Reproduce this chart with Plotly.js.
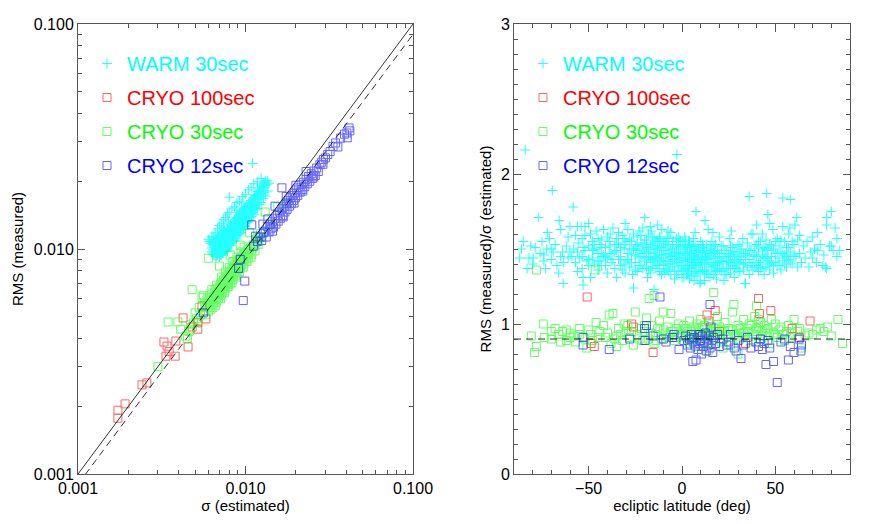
<!DOCTYPE html>
<html><head><meta charset="utf-8">
<script src="https://cdn.plot.ly/plotly-3.0.1.min.js"></script>
<style>html,body{margin:0;padding:0;background:#fff}#chart{width:872px;height:524px}</style>
</head><body><div id="chart"></div>
<script>
// ---- Left panel: [sigma (estimated), RMS (measured)] ----
const warmLeft = [
[0.0060,0.0110],[0.0062,0.0106],[0.0064,0.0113],[0.0063,0.0097],[0.0064,0.0099],[0.0065,0.0094],[0.0065,0.0102],[0.0066,0.0097],[0.0066,0.0106],
[0.0067,0.0100],[0.0067,0.0095],[0.0068,0.0103],[0.0068,0.0109],[0.0069,0.0098],[0.0069,0.0105],[0.0070,0.0101],[0.0070,0.0112],[0.0071,0.0107],
[0.0071,0.0099],[0.0072,0.0104],[0.0072,0.0113],[0.0072,0.0094],[0.0073,0.0109],[0.0073,0.0102],[0.0074,0.0116],[0.0074,0.0106],[0.0075,0.0111],
[0.0075,0.0103],[0.0076,0.0119],[0.0076,0.0108],[0.0077,0.0113],[0.0077,0.0104],[0.0078,0.0121],[0.0078,0.0101],[0.0078,0.0110],[0.0079,0.0116],
[0.0079,0.0107],[0.0080,0.0124],[0.0080,0.0113],[0.0080,0.0170],[0.0081,0.0119],[0.0081,0.0109],[0.0082,0.0127],[0.0082,0.0115],[0.0083,0.0122],
[0.0083,0.0112],[0.0084,0.0130],[0.0084,0.0118],[0.0085,0.0125],[0.0085,0.0109],[0.0085,0.0114],[0.0086,0.0133],[0.0086,0.0121],[0.0087,0.0128],
[0.0087,0.0117],[0.0088,0.0137],[0.0088,0.0124],[0.0089,0.0131],[0.0089,0.0120],[0.0090,0.0140],[0.0090,0.0127],[0.0091,0.0134],[0.0091,0.0123],
[0.0092,0.0143],[0.0092,0.0118],[0.0092,0.0130],[0.0093,0.0137],[0.0094,0.0126],[0.0094,0.0146],[0.0095,0.0133],[0.0096,0.0141],[0.0097,0.0130],
[0.0097,0.0150],[0.0098,0.0138],[0.0099,0.0146],[0.0100,0.0130],[0.0100,0.0154],[0.0101,0.0142],[0.0102,0.0150],[0.0103,0.0139],[0.0104,0.0159],
[0.0105,0.0147],[0.0106,0.0156],[0.0107,0.0144],[0.0108,0.0164],[0.0108,0.0139],[0.0109,0.0152],[0.0110,0.0160],[0.0110,0.0240],[0.0111,0.0150],
[0.0112,0.0169],[0.0113,0.0157],[0.0114,0.0166],[0.0116,0.0174],[0.0117,0.0161],[0.0118,0.0180],[0.0120,0.0170],[0.0121,0.0185],[0.0123,0.0176],
[0.0124,0.0190],[0.0126,0.0182],[0.0128,0.0195],[0.0130,0.0187],[0.0132,0.0200],[0.0134,0.0193],[0.0068,0.0096],[0.0070,0.0097],[0.0073,0.0099],
[0.0066,0.0101],[0.0069,0.0108],[0.0071,0.0103],[0.0074,0.0100],[0.0076,0.0112],[0.0079,0.0111],[0.0082,0.0120],[0.0084,0.0113],[0.0087,0.0124],
[0.0090,0.0121],[0.0093,0.0131],[0.0096,0.0128],[0.0099,0.0137],[0.0102,0.0136],[0.0106,0.0143],[0.0115,0.0158],[0.0119,0.0166],
[0.0064,0.0104],[0.0065,0.0110],[0.0066,0.0093],[0.0067,0.0111],[0.0068,0.0099],[0.0069,0.0114],[0.0070,0.0095],[0.0070,0.0106],[0.0071,0.0116],
[0.0072,0.0099],[0.0072,0.0109],[0.0073,0.0118],[0.0074,0.0097],[0.0074,0.0111],[0.0075,0.0121],[0.0075,0.0099],[0.0076,0.0103],[0.0077,0.0119],
[0.0077,0.0108],[0.0078,0.0125],[0.0078,0.0105],[0.0079,0.0121],[0.0080,0.0104],[0.0080,0.0118],[0.0081,0.0128],[0.0081,0.0113],[0.0082,0.0106],
[0.0083,0.0126],[0.0083,0.0116],[0.0084,0.0108],[0.0085,0.0131],[0.0085,0.0120],[0.0086,0.0111],[0.0087,0.0135],[0.0087,0.0122],[0.0088,0.0114],
[0.0089,0.0138],[0.0089,0.0125],[0.0090,0.0116],[0.0091,0.0141],[0.0091,0.0129],[0.0092,0.0123],[0.0093,0.0145],[0.0093,0.0119],[0.0094,0.0135],
[0.0095,0.0148],[0.0095,0.0125],[0.0096,0.0136],[0.0097,0.0122],[0.0098,0.0151],[0.0099,0.0127],[0.0100,0.0142],[0.0101,0.0155],[0.0102,0.0131],
[0.0103,0.0146],[0.0104,0.0135],[0.0105,0.0160],[0.0106,0.0138],[0.0107,0.0152],[0.0109,0.0164],[0.0110,0.0145],[0.0111,0.0158],[0.0113,0.0170],
[0.0115,0.0152],[0.0117,0.0175],[0.0119,0.0158],[0.0122,0.0180],[0.0125,0.0172],[0.0127,0.0191],[0.0129,0.0178],[0.0131,0.0192],
[0.0061,0.0108],[0.0063,0.0114],[0.0066,0.0118],[0.0068,0.0123],[0.0070,0.0127],[0.0072,0.0130],[0.0074,0.0135],[0.0076,0.0138],[0.0078,0.0143],
[0.0080,0.0145],[0.0083,0.0152],[0.0086,0.0154],[0.0089,0.0161],[0.0092,0.0163],[0.0096,0.0171],[0.0100,0.0175],[0.0104,0.0183],[0.0108,0.0187],
[0.0112,0.0195],[0.0118,0.0199],[0.0124,0.0206],[0.0070,0.0092],[0.0073,0.0096],[0.0076,0.0098],[0.0079,0.0102],[0.0082,0.0104],[0.0085,0.0109],
[0.0088,0.0111],[0.0091,0.0117],[0.0094,0.0118],[0.0097,0.0124],[0.0100,0.0126],[0.0103,0.0132],[0.0106,0.0134],[0.0109,0.0140],[0.0112,0.0142],
[0.0115,0.0149],[0.0118,0.0151],[0.0121,0.0158],[0.0124,0.0161],[0.0128,0.0168],[0.0132,0.0172],[0.0136,0.0181],[0.0069,0.0101],[0.0072,0.0107],
[0.0075,0.0115],[0.0078,0.0117],[0.0081,0.0123],[0.0084,0.0126],[0.0087,0.0131],[0.0090,0.0133],[0.0093,0.0139],[0.0096,0.0145],[0.0099,0.0150],
[0.0102,0.0153],[0.0105,0.0158],[0.0108,0.0160],[0.0111,0.0167],[0.0114,0.0173],[0.0120,0.0181],[0.0126,0.0187],[0.0130,0.0197],[0.0135,0.0201],
[0.0138,0.0196],[0.0074,0.0125],[0.0079,0.0133],[0.0088,0.0149],[0.0095,0.0160],[0.0071,0.0097],[0.0077,0.0104],[0.0083,0.0112],[0.0090,0.0121],
[0.0098,0.0132],[0.0105,0.0142],[0.0113,0.0153],
[0.0063,0.0101],[0.0064,0.0095],[0.0064,0.0107],[0.0065,0.0098],[0.0065,0.0105],[0.0066,0.0099],[0.0066,0.0110],[0.0067,0.0093],[0.0067,0.0104],
[0.0067,0.0108],[0.0068,0.0094],[0.0068,0.0101],[0.0068,0.0113],[0.0069,0.0096],[0.0069,0.0103],[0.0069,0.0110],[0.0070,0.0099],[0.0070,0.0108],
[0.0070,0.0115],[0.0071,0.0094],[0.0071,0.0101],[0.0071,0.0111],[0.0072,0.0097],[0.0072,0.0102],[0.0072,0.0117],[0.0073,0.0104],[0.0073,0.0112],
[0.0073,0.0096],[0.0074,0.0103],[0.0074,0.0108],[0.0074,0.0119],[0.0075,0.0106],[0.0075,0.0113],[0.0076,0.0100],[0.0076,0.0115],[0.0077,0.0110],
[0.0077,0.0100],[0.0078,0.0113],[0.0078,0.0098],[0.0079,0.0104],[0.0079,0.0118]
];
const cryo100Left = [
[0.00173,0.00192],[0.00173,0.00177],[0.00191,0.00205],[0.00241,0.00249],[0.00258,0.00254],[0.00326,0.00386],[0.00340,0.00370],
[0.00335,0.00334],[0.00380,0.00334],[0.00384,0.00390],[0.00424,0.00494],[0.00454,0.00367],[0.00480,0.00450],[0.00519,0.00440],
[0.00550,0.00558],[0.00580,0.00489],[0.00350,0.00350],[0.00520,0.00470]
];
const cryo30Left = [
[0.0030,0.0030],[0.00345,0.00474],[0.00395,0.00474],[0.0041,0.0044],[0.0044,0.0041],[0.0045,0.0040],[0.0046,0.0043],[0.0047,0.0046],
[0.0047,0.0044],[0.0048,0.0066],[0.0049,0.0047],[0.0050,0.0052],[0.0051,0.0049],[0.0052,0.0048],[0.0053,0.0055],[0.0054,0.0051],
[0.0055,0.0061],[0.0056,0.0062],[0.0060,0.0091],[0.0070,0.0084],[0.0081,0.0094],[0.0093,0.0104],[0.0106,0.0118],[0.0099,0.0096],
[0.0057,0.0053],[0.0057,0.0058],[0.0058,0.0051],[0.0058,0.0056],[0.0059,0.0055],[0.0059,0.0060],[0.0060,0.0053],[0.0060,0.0058],
[0.0061,0.0057],[0.0061,0.0061],[0.0062,0.0054],[0.0062,0.0059],[0.0063,0.0063],[0.0063,0.0057],[0.0064,0.0060],[0.0064,0.0055],
[0.0065,0.0064],[0.0065,0.0058],[0.0066,0.0061],[0.0066,0.0066],[0.0067,0.0058],[0.0067,0.0063],[0.0068,0.0062],[0.0068,0.0067],
[0.0069,0.0060],[0.0069,0.0065],[0.0070,0.0068],[0.0070,0.0062],[0.0071,0.0065],[0.0071,0.0070],[0.0072,0.0063],[0.0072,0.0067],
[0.0073,0.0071],[0.0073,0.0064],[0.0074,0.0068],[0.0074,0.0073],[0.0075,0.0065],[0.0075,0.0070],[0.0076,0.0074],[0.0076,0.0067],
[0.0077,0.0071],[0.0077,0.0076],[0.0078,0.0068],[0.0078,0.0073],[0.0079,0.0077],[0.0079,0.0070],[0.0080,0.0074],[0.0080,0.0079],
[0.0081,0.0070],[0.0081,0.0075],[0.0082,0.0080],[0.0082,0.0073],[0.0083,0.0077],[0.0083,0.0082],[0.0084,0.0073],[0.0084,0.0078],
[0.0085,0.0083],[0.0085,0.0076],[0.0086,0.0080],[0.0086,0.0085],[0.0087,0.0076],[0.0087,0.0081],[0.0088,0.0086],[0.0088,0.0079],
[0.0089,0.0083],[0.0089,0.0088],[0.0090,0.0079],[0.0090,0.0084],[0.0091,0.0089],[0.0091,0.0082],[0.0092,0.0086],[0.0093,0.0091],
[0.0093,0.0082],[0.0094,0.0087],[0.0095,0.0092],[0.0095,0.0085],[0.0096,0.0089],[0.0097,0.0094],[0.0098,0.0086],[0.0099,0.0091],
[0.0100,0.0096],[0.0101,0.0088],[0.0102,0.0094],[0.0103,0.0099],[0.0104,0.0091],[0.0106,0.0097],[0.0107,0.0102],[0.0109,0.0095],
[0.0110,0.0101],[0.0112,0.0105],[0.0114,0.0098],[0.0116,0.0107],[0.0117,0.0110],[0.0120,0.0105],[0.0125,0.0113],[0.0131,0.0146],
[0.0156,0.0154],[0.0177,0.0160],[0.0140,0.0128],[0.0063,0.0066],[0.0067,0.0069],[0.0072,0.0075],[0.0076,0.0079],[0.0080,0.0083],
[0.0084,0.0088],[0.0089,0.0092],[0.0094,0.0097],[0.0098,0.0102],[0.0066,0.0056],[0.0071,0.0060],[0.0075,0.0064],[0.0079,0.0068],
[0.0083,0.0071],[0.0088,0.0075],[0.0092,0.0079],[0.0097,0.0083],[0.0102,0.0088],[0.0108,0.0092],
[0.0062,0.0057],[0.0064,0.0058],[0.0066,0.0062],[0.0068,0.0064],[0.0070,0.0065],[0.0072,0.0069],[0.0074,0.0070],[0.0076,0.0071],
[0.0078,0.0075],[0.0080,0.0076],[0.0082,0.0077],[0.0084,0.0081],[0.0086,0.0082],[0.0088,0.0083],[0.0090,0.0086],[0.0092,0.0088],
[0.0094,0.0089],[0.0096,0.0092],[0.0098,0.0093],[0.0100,0.0094],[0.0065,0.0061],[0.0069,0.0063],[0.0073,0.0068],[0.0077,0.0072],
[0.0081,0.0077],[0.0085,0.0079],[0.0089,0.0085],[0.0093,0.0088],[0.0097,0.0090],[0.0103,0.0096],[0.0105,0.0100],[0.0111,0.0103],
[0.0115,0.0110],[0.0119,0.0112],[0.0123,0.0117]
];
const cryo12Left = [
[0.0056,0.0052],[0.0091,0.0082],[0.0099,0.0072],[0.0097,0.0059],[0.0093,0.0090],[0.0109,0.0128],[0.0165,0.0187],[0.0112,0.0103],
[0.0118,0.0108],[0.0122,0.0113],[0.0125,0.0109],[0.0128,0.0118],[0.0131,0.0120],[0.0133,0.0113],[0.0135,0.0126],[0.0138,0.0119],
[0.0140,0.0129],[0.0142,0.0123],[0.0145,0.0132],[0.0147,0.0125],[0.0150,0.0137],[0.0152,0.0129],[0.0155,0.0141],[0.0157,0.0133],
[0.0160,0.0146],[0.0162,0.0137],[0.0165,0.0151],[0.0167,0.0141],[0.0170,0.0155],[0.0172,0.0146],[0.0175,0.0160],[0.0177,0.0150],
[0.0180,0.0164],[0.0183,0.0155],[0.0185,0.0169],[0.0188,0.0159],[0.0190,0.0173],[0.0193,0.0164],[0.0196,0.0177],[0.0199,0.0169],
[0.0202,0.0183],[0.0205,0.0173],[0.0208,0.0187],[0.0212,0.0179],[0.0215,0.0193],[0.0218,0.0184],[0.0222,0.0198],[0.0226,0.0189],
[0.0230,0.0204],[0.0234,0.0195],[0.0238,0.0210],[0.0242,0.0200],[0.0247,0.0216],[0.0251,0.0206],[0.0256,0.0222],[0.0261,0.0212],
[0.0266,0.0229],[0.0272,0.0221],[0.0278,0.0237],[0.0285,0.0243],[0.0292,0.0250],[0.0300,0.0254],[0.0310,0.0263],[0.0320,0.0271],
[0.0333,0.0286],[0.0356,0.0284],[0.0345,0.0296],[0.0370,0.0311],[0.0390,0.0324],[0.0403,0.0328],[0.0415,0.0345],[0.0420,0.0335],
[0.0405,0.0312],[0.0150,0.0155],[0.0175,0.0171],[0.0200,0.0192],[0.0230,0.0221],[0.0136,0.0136],[0.0127,0.0129],[0.0115,0.0114],
[0.0145,0.0120],[0.0168,0.0139],[0.0195,0.0160],[0.0220,0.0181],[0.0255,0.0209],[0.0290,0.0238]
];
// ---- Right panel: [ecliptic latitude (deg), RMS(measured)/sigma(estimated)] ----
const warmRight = [
[-87,1.44],[-85,1.55],[-84,2.16],[-83,1.37],[-82,1.44],[-86,1.50],[-81,1.52],[-80,1.40],
[-79.7,1.44],[-78.6,1.51],[-77,1.71],[-76,1.47],[-75,1.55],[-74,1.46],[-74,1.42],[-73,1.37],[-72,1.61],[-71,1.57],[-72.5,1.50],[-70,1.43],
[-69.5,1.89],[-69,1.48],[-67,1.39],[-66,1.34],[-65.8,1.69],[-65,1.63],[-64,1.48],[-63.6,1.41],[-63.6,1.27],[-61,1.58],[-62,1.52],[-60,1.65],[-68,1.53],[-61,1.44],
[-59,1.45],[-58.3,1.78],[-57,1.59],[-57,1.41],[-56,1.65],[-56,1.48],[-56,1.35],[-55.6,1.54],[-54,1.65],[-53.5,1.57],[-53.5,1.45],[-53.5,1.37],[-53,1.51],[-53,1.31],[-53,1.26],[-52,1.65],[-52,1.59],[-51,1.42],[-50,1.67],[-50,1.52],[-50,1.43],[-58,1.50],
[-49,1.60],[-49,1.31],[-48,1.55],[-47.6,1.49],[-47,1.40],[-46,1.62],[-45,1.47],[-45,1.36],[-44,1.53],[-43,1.56],[-43,1.39],[-42,1.63],[-42,1.46],[-41,1.45],[-41,1.51],[-40,1.58],[-40,1.34],[-44,1.42],[-46,1.50],[-48,1.44],
[-38.5,1.60],[-38.5,1.52],[-38,1.41],[-37,1.64],[-37,1.43],[-36,1.48],[-35,1.57],[-35,1.49],[-35,1.31],[-34,1.54],[-33,1.39],[-33,1.45],[-32,1.59],[-32,1.36],[-31,1.50],[-30.5,1.67],[-30.5,1.53],[-30.5,1.34],[-30,1.42],[-39,1.47],[-36,1.37],[-34,1.61],
[-29,1.63],[-29,1.43],[-28,1.50],[-28,1.38],[-27,1.55],[-27,1.46],[-26,1.24],[-26,1.60],[-25,1.41],[-25,1.52],[-24,1.58],[-24,1.49],[-24,1.35],[-23,1.44],[-23,1.62],[-22,1.54],[-22,1.39],[-21,1.64],[-21,1.47],[-20,1.56],[-20,1.42],[-20,1.71],[-29.5,1.55],[-26.5,1.33],
[-19,1.51],[-19,1.38],[-18,1.60],[-18,1.45],[-17,1.65],[-17,1.53],[-17,1.34],[-16,1.54],[-16,1.43],[-15,1.23],[-15,1.58],[-15,1.48],[-14,1.37],[-14,1.50],[-13,1.66],[-13,1.44],[-13,1.56],[-12,1.40],[-12,1.52],[-11.8,1.57],[-11,1.46],[-11,1.33],[-10.8,1.63],[-10,1.49],[-10,1.39],[-18.5,1.31],[-16.5,1.62],[-14.5,1.45],
[-9,1.55],[-9,1.42],[-8,1.58],[-8,1.47],[-8,1.36],[-7,1.52],[-7,1.40],[-6,1.61],[-6,1.45],[-6,1.33],[-5,1.50],[-5,1.38],[-4.8,1.55],[-4,1.43],[-4,1.30],[-3,1.48],[-3,1.57],[-2.7,2.13],[-2,1.58],[-2,1.41],[-2,1.35],[-1,1.46],[-1,1.52],[0,1.39],[0,1.55],[0,1.31],[-9.5,1.34],[-7.5,1.62],[-5.5,1.46],[-1.5,1.44],
[1,1.48],[1,1.36],[1.5,1.58],[2,1.42],[2,1.52],[2.5,1.33],[3,1.46],[3,1.39],[3.5,1.55],[4,1.44],[4,1.30],[4.5,1.50],[5,1.37],[5,1.47],[5.5,1.41],[6,1.53],[6,1.34],[6.5,1.45],[7,1.61],[7,1.39],[7.5,1.75],[7.5,1.49],[8,1.43],[8,1.32],[8.5,1.52],[9,1.40],[9,1.46],[9.6,1.27],[10,1.28],[10,1.55],[3.5,1.35],[6.5,1.29],
[10.5,1.42],[11,1.48],[11,1.36],[11.5,1.51],[12,1.40],[12.3,1.69],[12.5,1.45],[13,1.34],[13,1.53],[13.5,1.43],[14,1.63],[14,1.38],[14.5,1.47],[15,1.41],[15,1.31],[15.5,1.50],[16,1.36],[16.6,1.61],[17,1.44],[17,1.33],[17.5,1.48],[18,1.39],[18,1.53],[18.5,1.30],[19,1.45],[19,1.37],[20,1.58],[20,1.42],[16,1.55],[12,1.29],
[21,1.47],[21,1.35],[22,1.52],[22,1.40],[23,1.44],[23,1.33],[24,1.49],[24,1.38],[25,1.42],[25.6,1.57],[26,1.46],[26,1.34],[27,1.51],[27,1.39],[28,1.43],[28,1.31],[29,1.48],[29,1.37],[30,1.53],[30,1.41],[22.5,1.29],[26.5,1.62],
[31,1.45],[31,1.35],[32,1.50],[32.6,1.57],[33,1.40],[33.7,1.27],[34,1.27],[34,1.47],[35,1.38],[35,1.54],[36,1.85],[36,1.43],[36,1.33],[37,1.49],[37,1.60],[38,1.60],[38,1.41],[38,1.36],[39,1.52],[39,1.45],[40,1.66],[40,1.39],
[41,1.48],[41,1.35],[42,1.55],[42,1.42],[43,1.60],[43,1.46],[43,1.38],[44,1.51],[44,1.33],[45,1.44],[45.4,1.87],[45,1.56],[46,1.73],[46,1.40],[46,1.49],[47,1.67],[47,1.36],[47,1.53],[48,1.45],[48.7,1.63],[48,1.41],[49,1.50],[49,1.34],[50,1.47],
[51,1.57],[51,1.39],[52,1.52],[52,1.44],[53,1.48],[53,1.36],[54,1.84],[54,1.65],[54,1.42],[55,1.55],[55,1.46],[56,1.38],[56,1.51],[57,1.60],[57,1.43],[57.8,1.64],[58,1.83],[58,1.48],[59,1.40],[60,1.53],
[60.5,1.66],[61.5,1.71],[61,1.45],[62,1.38],[62,1.56],[63,1.59],[63,1.47],[64,1.41],[65,1.52],[66,1.44],[67,1.55],[68,1.38],[69,1.48],[70,1.58],[70,1.44],
[71,1.50],[72,1.41],[72.7,1.61],[72.7,1.49],[74,1.53],[75.4,1.39],[76,1.46],[77,1.38],[77.5,1.71],[77.5,1.66],[77.5,1.37],[79,1.52],[80,1.75],[80,1.52],[81,1.49],[82,1.64],[83,1.57],[84.5,1.49],[83,1.45],
[-47,1.53],[-45,1.57],[-43,1.45],[-41,1.39],[-39,1.55],[-38,1.47],[-36,1.53],[-34,1.43],[-33,1.51],[-31,1.40],[-31,1.57],[-29,1.47],[-28,1.56],[-27,1.41],[-26,1.50],[-25,1.36],[-25,1.46],[-24,1.53],[-23,1.39],[-23,1.50],
[-22,1.45],[-22,1.59],[-21,1.37],[-21,1.52],[-20,1.48],[-19,1.56],[-19,1.44],[-18,1.36],[-18,1.50],[-17,1.41],[-17,1.47],[-16,1.58],[-16,1.38],[-15,1.52],[-15,1.42],[-14,1.55],[-14,1.44],[-13,1.39],[-13,1.50],[-12,1.46],
[-12,1.35],[-12,1.58],[-11,1.51],[-11,1.42],[-10,1.54],[-10,1.44],[-9,1.37],[-9,1.49],[-8,1.53],[-8,1.42],[-7,1.46],[-7,1.57],[-7,1.35],[-6,1.50],[-6,1.40],[-5,1.55],[-5,1.43],[-4,1.48],[-4,1.36],[-3,1.52],
[-3,1.42],[-3,1.33],[-2,1.47],[-2,1.53],[-1,1.38],[-1,1.56],[0,1.44],[0,1.50],[0,1.35],[1,1.53],[1,1.42],[1,1.31],[2,1.47],[2,1.37],[2,1.56],[3,1.43],[3,1.51],[3,1.33],[4,1.48],[4,1.38],
[4,1.55],[5,1.42],[5,1.52],[5,1.32],[6,1.46],[6,1.40],[6,1.57],[7,1.44],[7,1.35],[7,1.52],[8,1.48],[8,1.38],[9,1.50],[9,1.34],[9,1.44],[10,1.41],[10,1.48],[10,1.36],[11,1.44],[11,1.53],
[12,1.35],[12,1.49],[13,1.41],[13,1.47],[14,1.44],[14,1.33],[15,1.46],[15,1.52],[16,1.40],[16,1.48],[17,1.38],[17,1.52],[18,1.44],[18,1.35],[19,1.49],[19,1.41],[20,1.36],[20,1.47],[21,1.42],[21,1.52],
[22,1.45],[22,1.36],[23,1.49],[24,1.42],[24,1.33],[25,1.47],[25,1.37],[26,1.41],[26,1.52],[27,1.45],[28,1.48],[28,1.38],[29,1.42],[30,1.46],[30,1.35],[31,1.40],[31,1.52],[32,1.43],[33,1.47],[33,1.36],
[34,1.41],[35,1.46],[36,1.50],[37,1.39],[38,1.46],[39,1.38],[40,1.45],[40,1.53],[41,1.41],[41,1.55],[42,1.37],[43,1.50],[44,1.44],[45,1.50],[45,1.38],[46,1.45],[47,1.42],[48,1.52],[49,1.39],[50,1.55],
[50,1.41],[51,1.47],[52,1.39],[53,1.56],[54,1.47],[55,1.40],[56,1.45],[57,1.51],[58,1.42],[59,1.55],[60,1.46],[-60,1.48],[-65,1.45],[-70,1.50],[-55,1.44],[-52,1.49],[-50,1.39],[-48,1.50],[-45,1.42],[-43,1.51],[-40,1.44]
];
const cryo100Right = [
[-50.8,1.18],[-47,0.85],[-48.7,0.87],[-27,1.00],[-26,0.98],[-15.5,0.81],[13.4,1.06],[14.4,1.02],[17.8,1.09],
[20,0.95],[34,0.87],[41,1.17],[41.5,1.07],[47.6,1.09],[59,0.97],[63,0.91],[68.6,1.02],[10,0.93]
];
const cryo30Right = [
[-80.7,0.92],[-79,0.81],[-78,0.85],[-73.8,0.91],[-74.3,1.00],[-70,0.95],[-68,0.97],[-66,0.93],[-64,0.95],[-62,0.96],[-60,0.94],[-62,0.89],
[-58,0.92],[-57,0.88],[-55,0.97],[-52,0.90],[-51,0.84],[-49,0.93],[-48,0.89],[-46,1.01],[-44,0.95],[-42,0.99],[-41,0.91],[-39,1.06],
[-38,0.87],[-37,1.07],[-35,0.92],[-34,0.97],[-32,0.89],[-30,0.95],[-29,0.99],[-28,0.91],[-26,0.86],[-25,1.08],[-24,0.93],[-22,0.97],
[-21,0.89],[-20,0.95],[-19,1.04],[-18,0.90],[-17.6,1.17],[-16,0.99],[-15,1.19],[-15,0.87],[-14,0.93],[-13,0.97],[-12,1.02],[-11,0.90],
[-10,1.08],[-9,0.94],[-8,0.98],[-7,0.91],[-6,1.07],[-5,0.95],[-4,0.89],[-3,0.97],[-2,1.00],[-1,0.92],[0,0.96],[1,0.99],[2,0.93],[3,0.90],
[4,1.02],[4,0.87],[5,0.95],[6,0.98],[6,0.91],[7,0.85],[8,1.00],[8,0.94],[9,0.97],[10,0.89],[10,1.03],[11,0.93],[12,0.96],[12,0.99],
[13,0.87],[14,0.94],[15,1.00],[16,0.92],[17,1.21],[17,0.97],[18,0.90],[19,1.05],[19,0.94],[20,0.98],[21,0.88],[22,0.95],[23,1.01],
[24,0.92],[25,0.97],[26,0.86],[27,1.08],[27.8,1.13],[28,0.93],[29,0.96],[30,0.99],[31,0.90],[32,0.94],[33,1.03],[34,0.92],[35,0.97],
[36,1.00],[37,0.88],[38,0.95],[39,1.05],[40,1.12],[40,0.93],[41,0.98],[42,1.01],[42,0.90],[43,0.95],[44,0.99],[45,0.92],[46,0.97],
[47,0.87],[48,1.03],[49,0.94],[50,1.00],[51,0.91],[52,0.96],[54,0.93],[55,0.89],[57,0.99],[58,0.91],[60,1.03],[62,0.95],[64,0.84],
[66,0.92],[70,0.93],[72,0.96],[74,0.97],[76,0.95],[83.6,1.03],[86,0.87],[-78,1.36],[-46.5,1.36],[14,0.82],[30,0.80],[22,0.84],[-35,0.85],
[-70,0.90],[-65,0.88],[-60,0.91],[-55,0.93],[-50,0.96],[-45,0.91],[-40,0.94],[-36,0.90],[-33,0.93],[-31,1.00],[-27,0.95],[-23,0.90],
[-20,0.99],[-17,0.94],[-14,0.89],[-10,0.96],[-8,0.92],[-6,0.95],[-3,0.91],[0,0.93],[2,0.97],[3,0.95],[5,0.91],[7,0.96],[9,0.92],[11,0.98],
[13,0.93],[15,0.96],[16,0.95],[18,0.97],[20,0.93],[21,0.96],[23,0.95],[25,0.93],[27,0.96],[29,0.92],[31,0.97],[33,0.94],[35,0.95],
[37,0.99],[38,0.92],[40,0.97],[41,1.03],[43,0.92],[45,0.96],[47,0.94],[50,0.93],[53,0.98],[56,0.95],[59,0.94],[63,0.97],[68,0.94],[78,0.98],[80,0.92]
];
const cryo12Right = [
[-53,0.91],[-53,0.86],[-39,0.83],[-28,0.90],[-20,0.97],[-19,0.99],[-19.8,0.89],[-15.5,0.92],[-11.8,1.18],[-10,0.90],[-8.6,0.88],
[-5,0.91],[-4.3,0.93],[-1.6,0.83],[1,0.89],[2,0.92],[3,0.86],[4,0.90],[4.5,0.84],[5,0.93],[5.8,0.75],[6,0.88],[6.5,0.91],[7,0.86],
[7.5,0.76],[8,0.90],[8.5,0.83],[9,0.93],[9.5,0.87],[10,0.89],[10.5,0.80],[11,0.92],[11.5,0.85],[12,0.88],[12.5,0.94],[13,0.82],
[13.5,0.90],[14,0.86],[14.5,0.92],[15,1.13],[15.5,0.98],[15,0.84],[16,0.89],[16.5,0.81],[17,0.91],[18,0.87],[19,0.93],[20,0.85],
[22,0.90],[24,0.86],[25,0.88],[26,0.93],[28,0.84],[29,0.82],[30,0.89],[31.6,0.77],[33,0.86],[35,0.91],[37,0.84],[39.6,0.88],
[41,0.85],[42,0.90],[43,0.83],[44,0.87],[45,0.73],[46,0.89],[47,0.84],[49,0.75],[51,0.61],[53,0.88],[55,0.90],[57,0.76],[58,0.85],
[60,0.81],[62.7,0.90],[63.7,0.82],[64,0.86]
];
// reference lines
const oneToOne = [0.001, 0.1];
const dashedRatio = 0.9;
const latRange = [-90, 90];
// tick labels
const leftTickVals = [0.001, 0.01, 0.1];
const leftTickText = ['0.001', '0.010', '0.100'];
const latTickVals = [-50, 0, 50];
const ratioTickVals = [0, 1, 2, 3];

const series = [
  {name:'WARM 30sec', color:'#00FFFF', symbol:'cross-thin-open', size:7, op:0.85, left:warmLeft, right:warmRight},
  {name:'CRYO 100sec', color:'#FF0000', symbol:'square-open', size:8, op:0.6, left:cryo100Left, right:cryo100Right},
  {name:'CRYO 30sec', color:'#00FF00', symbol:'square-open', size:8, op:0.6, left:cryo30Left, right:cryo30Right},
  {name:'CRYO 12sec', color:'#0000FF', symbol:'square-open', size:8, op:0.6, left:cryo12Left, right:cryo12Right}
];
const traces = [];
series.forEach((s, i) => {
  [['left','x','y','legend'],['right','x2','y2','legend2']].forEach(([k, xa, ya, lg]) => {
    traces.push({
      type:'scatter', mode:'markers', xaxis:xa, yaxis:ya, legend:lg, legendgroup:lg+i,
      x:s[k].map(p=>p[0]), y:s[k].map(p=>p[1]),
      name:'<span style="color:'+s.color+'">'+s.name+'</span>',
      opacity:s.op,
      marker:{symbol:s.symbol, size:s.size, color:s.color, line:{color:s.color, width:1}},
      hoverinfo:'skip'
    });
  });
});
traces.push({type:'scatter', mode:'lines', xaxis:'x', yaxis:'y', x:oneToOne, y:oneToOne, showlegend:false,
  line:{color:'#000', width:0.8}, hoverinfo:'skip'});
traces.push({type:'scatter', mode:'lines', xaxis:'x', yaxis:'y', x:oneToOne, y:oneToOne.map(v=>v*dashedRatio), showlegend:false,
  line:{color:'#000', width:0.8, dash:'7px,5px'}, hoverinfo:'skip'});
traces.push({type:'scatter', mode:'lines', xaxis:'x2', yaxis:'y2', x:latRange, y:[dashedRatio, dashedRatio], showlegend:false,
  line:{color:'#000', width:0.8, dash:'7px,5px'}, hoverinfo:'skip'});

const minorLog = [];
[0.001, 0.01].forEach(d => { for (let k = 2; k <= 9; k++) minorLog.push(k*d); });

const axColor = '#555';
const fam = '"Liberation Sans", Arial, sans-serif';
const tickFont = {family:fam, size:16, color:'#000'};
const titleFont = {family:fam, size:15, color:'#000'};
const common = {showline:true, linecolor:axColor, linewidth:1, mirror:'ticks', ticks:'inside', tickcolor:axColor,
  ticklen:8, tickwidth:1, showgrid:false, zeroline:false, tickfont:tickFont, automargin:false};

const layout = {
  width:872, height:524, margin:{l:0, r:0, t:0, b:0}, paper_bgcolor:'#fff', plot_bgcolor:'#fff',
  font:{family:fam, size:14, color:'#000'},
  xaxis:Object.assign({}, common, {type:'log', domain:[78/872, 413/872], range:[-3, -1], anchor:'y',
    tickmode:'array', tickvals:leftTickVals, ticktext:leftTickText,
    minor:{tickmode:'array', tickvals:minorLog, ticks:'inside', ticklen:4, tickcolor:axColor},
    title:{text:'σ (estimated)', font:titleFont, standoff:0}}),
  yaxis:Object.assign({}, common, {type:'log', domain:[1-474/524, 1-24/524], range:[-3, -1], anchor:'x',
    tickmode:'array', tickvals:leftTickVals, ticktext:leftTickText, ticklen:7,
    minor:{tickmode:'array', tickvals:minorLog, ticks:'inside', ticklen:4, tickcolor:axColor},
    title:{text:'RMS (measured)', font:titleFont, standoff:6}}),
  xaxis2:Object.assign({}, common, {domain:[514/872, 850/872], range:[-90, 90], anchor:'y2',
    tickmode:'array', tickvals:latTickVals,
    minor:{dtick:10, tick0:0, ticks:'inside', ticklen:4, tickcolor:axColor},
    title:{text:'ecliptic latitude (deg)', font:titleFont, standoff:0}}),
  yaxis2:Object.assign({}, common, {domain:[1-474/524, 1-24/524], range:[0, 3], anchor:'x2', ticklen:7,
    tickmode:'array', tickvals:ratioTickVals,
    minor:{dtick:0.1, tick0:0, ticks:'inside', ticklen:4, tickcolor:axColor},
    title:{text:'RMS (measured)/σ (estimated)', font:titleFont, standoff:5}}),
  legend:{x:87/872, y:1-44/524, xanchor:'left', yanchor:'top', bgcolor:'rgba(0,0,0,0)', borderwidth:0,
    font:{size:20, family:fam}, tracegroupgap:5, traceorder:'grouped'},
  legend2:{x:523/872, y:1-44/524, xanchor:'left', yanchor:'top', bgcolor:'rgba(0,0,0,0)', borderwidth:0,
    font:{size:20, family:fam}, tracegroupgap:5, traceorder:'grouped'},
  showlegend:true
};
Plotly.newPlot('chart', traces, layout, {staticPlot:true, displayModeBar:false});
</script>
</body></html>
